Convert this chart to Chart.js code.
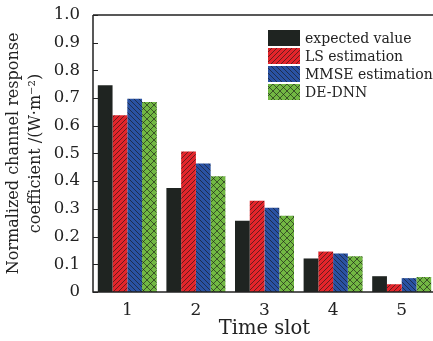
<!DOCTYPE html>
<html><head><meta charset="utf-8">
<script src="https://cdn.jsdelivr.net/npm/chart.js@4"></script>
<style>html,body{margin:0;padding:0;background:#fff;overflow:hidden;width:433px;height:341px}canvas{display:block}</style>
</head><body>
<div style="width:440px;height:341px"><canvas id="c" width="440" height="341"></canvas></div>
<script>
const categories = ['1','2','3','4','5'];
const seriesNames = ['expected value','LS estimation','MMSE estimation','DE-DNN'];
const expectedValue = [0.746, 0.375, 0.257, 0.121, 0.057];
const lsEstimation = [0.638, 0.507, 0.329, 0.146, 0.028];
const mmseEstimation = [0.697, 0.464, 0.304, 0.139, 0.050];
const deDnn = [0.686, 0.418, 0.275, 0.129, 0.054];
const yTicks = [0,0.1,0.2,0.3,0.4,0.5,0.6,0.7,0.8,0.9,1.0];

function makePattern(bg, kind){
  const s = kind==='cross'?7:5;
  const c = document.createElement('canvas'); c.width=s; c.height=s;
  const g = c.getContext('2d');
  g.fillStyle=bg; g.fillRect(0,0,s,s);
  g.strokeStyle='rgba(20,20,20,0.75)'; g.lineWidth=0.8;
  g.beginPath();
  if(kind==='fwd'||kind==='cross'){ g.moveTo(-1,s+1); g.lineTo(s+1,-1); g.moveTo(-1,1); g.lineTo(1,-1); g.moveTo(s-1,s+1); g.lineTo(s+1,s-1);}
  if(kind==='back'||kind==='cross'){ g.moveTo(-1,-1); g.lineTo(s+1,s+1); g.moveTo(s-1,-1); g.lineTo(s+1,1); g.moveTo(-1,s-1); g.lineTo(1,s+1);}
  g.stroke();
  return document.getElementById('c').getContext('2d').createPattern(c,'repeat');
}
const fills = ['#1f2421', makePattern('#e3252b','fwd'), makePattern('#2a52a3','back'), makePattern('#72b843','cross')];
const seriesData = [expectedValue, lsEstimation, mmseEstimation, deDnn];

const serif = "'DejaVu Serif', 'Liberation Serif', serif";
const axisColor = '#222';

const frameAndLegend = {
  id:'frameAndLegend',
  afterDraw(chart){
    const {ctx, chartArea:a, scales:{y}} = chart;
    ctx.save();
    ctx.strokeStyle=axisColor; ctx.lineWidth=1.5;
    ctx.beginPath();
    ctx.moveTo(a.left, a.top); ctx.lineTo(a.right, a.top);
    ctx.moveTo(a.left, a.top); ctx.lineTo(a.left, a.bottom); ctx.lineTo(a.right, a.bottom);
    ctx.stroke();
    ctx.lineWidth=1;
    yTicks.forEach(v=>{ const py=Math.round(y.getPixelForValue(v))+0.5; ctx.beginPath(); ctx.moveTo(a.left,py); ctx.lineTo(a.left+5,py); ctx.stroke();});
    // legend
    const lx=268, ly=30, bw=32, bh=16, rowH=18;
    ctx.font = "14px "+serif; ctx.textBaseline='middle'; ctx.fillStyle='#222';
    chart.data.datasets.forEach((ds,i)=>{
      const yy=ly+i*rowH;
      ctx.fillStyle=ds.backgroundColor; ctx.fillRect(lx,yy,bw,bh);
      ctx.fillStyle='#222'; ctx.fillText(ds.label, lx+bw+5, yy+bh/2+1);
    });
    ctx.restore();
  }
};

new Chart(document.getElementById('c'), {
  type:'bar',
  data:{ labels:categories, datasets: seriesNames.map((n,i)=>({label:n, data:seriesData[i], backgroundColor:fills[i], borderWidth:0})) },
  options:{
    responsive:false, animation:false,
    layout:{padding:{top:12,right:4,left:0,bottom:0}},
    plugins:{legend:{display:false}, tooltip:{enabled:false}},
    datasets:{bar:{barPercentage:1, categoryPercentage:0.86}},
    scales:{
      x:{
        grid:{display:false}, border:{display:false},
        ticks:{color:'#222', font:{family:serif,size:17}, padding:0},
        title:{display:true, text:'Time slot', color:'#222', font:{family:serif,size:19.5}, padding:{top:-1,bottom:0}},
        afterFit(s){ s.height=49; }
      },
      y:{
        min:0, max:1,
        afterBuildTicks(s){ s.ticks = yTicks.map(v=>({value:v})); },
        grid:{display:false}, border:{display:false},
        ticks:{color:'#222', font:{family:serif,size:16.5}, padding:5, callback:v=> v===0?'0':v.toFixed(1)},
        title:{display:true, text:['Normalized channel response','coefficient /(W·m⁻²)'], color:'#222', font:{family:serif,size:16, lineHeight:1.35}, padding:{top:3,bottom:2}},
        afterFit(s){ s.width=93; }
      }
    }
  },
  plugins:[frameAndLegend]
});
</script>
</body></html>
